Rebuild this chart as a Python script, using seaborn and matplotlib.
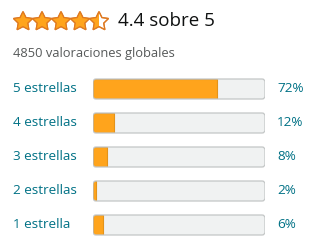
import numpy as np
import pandas as pd
import matplotlib
matplotlib.use("Agg")
import matplotlib.pyplot as plt
import seaborn as sns
from matplotlib.patches import FancyBboxPatch, Polygon
from matplotlib.transforms import blended_transform_factory

# ---- data ----
rating = 4.4
rating_max = 5
total_ratings = 4850
star_labels = ["5 estrellas", "4 estrellas", "3 estrellas", "2 estrellas", "1 estrella"]
percents = [72, 12, 8, 2, 6]

title_text = f"{rating} sobre {rating_max}"
subtitle_text = f"{total_ratings} valoraciones globales"

ORANGE = "#FFA41C"
ORANGE_EDGE = "#E3931B"
STAR_EDGE = "#DE7921"
TRACK = "#F0F2F2"
TRACK_EDGE = "#C3C6C6"
TEAL = "#007185"
DARK = "#0F1111"
GREY = "#565959"

sns.set_theme(style="white")
plt.rcParams["font.family"] = ["Open Sans", "DejaVu Sans"]

W, H = 320, 252
fig = plt.figure(figsize=(W / 100, H / 100), dpi=100)
fig.patch.set_facecolor("white")

# ---- header axes in pixel coordinates ----
hdr = fig.add_axes([0, 0, 1, 1])
hdr.set_xlim(0, W)
hdr.set_ylim(H, 0)
hdr.axis("off")


def star_poly(cx, cy, r_out, r_in):
    pts = []
    for k in range(10):
        ang = np.pi / 2 + k * np.pi / 5
        r = r_out if k % 2 == 0 else r_in
        pts.append((cx + r * np.cos(ang), cy - r * np.sin(ang)))
    return np.array(pts)


filled = round(rating * 2) / 2
for i in range(rating_max):
    cx = 23 + i * 19
    cy = 21.6
    pts = star_poly(cx, cy, 10.0, 5.0)
    frac = min(max(filled - i, 0), 1)
    base = Polygon(pts, closed=True, facecolor="white", edgecolor=STAR_EDGE, lw=0.9, zorder=2)
    hdr.add_patch(base)
    if frac > 0:
        fill = Polygon(pts, closed=True, facecolor=ORANGE, edgecolor="none", zorder=3)
        hdr.add_patch(fill)
        if frac < 1:
            clip = plt.Rectangle((cx - 11, cy - 11), 22 * frac, 22, transform=hdr.transData)
            fill.set_clip_path(clip)
        edge = Polygon(pts, closed=True, facecolor="none", edgecolor=STAR_EDGE, lw=0.9, zorder=4)
        hdr.add_patch(edge)

hdr.text(118, 21.5, title_text, fontsize=13.5, color=DARK, va="center", ha="left")
hdr.text(13, 53.5, subtitle_text, fontsize=9.3, color=GREY, va="center", ha="left")

# ---- bars axes ----
left, right = 93 / W, 265 / W
top_px, bot_px = 72, 242
ax = fig.add_axes([left, 1 - bot_px / H, right - left, (bot_px - top_px) / H])

df = pd.DataFrame({"label": star_labels, "pct": percents, "full": [100] * len(percents)})
bw = 20 / 34
sns.barplot(data=df, y="label", x="full", color=TRACK, width=bw, ax=ax, orient="h", saturation=1)
n_track = len(ax.patches)
sns.barplot(data=df, y="label", x="pct", color=ORANGE, width=bw, ax=ax, orient="h", saturation=1)

ax.set_xlim(0, 100)
ax.set_ylim(len(star_labels) - 0.5, -0.5)
ax.axis("off")

# rounded track backgrounds, orange fills clipped inside them
px_per_x = (265 - 93) / 100.0
px_per_y = 34.0
rad_px = 3.0
patches = list(ax.patches)
tracks = patches[:n_track]
fills = patches[n_track:]
for tr, fl in zip(tracks, fills):
    x0, y0 = tr.get_x(), tr.get_y()
    w, h = tr.get_width(), tr.get_height()
    tr.remove()
    rp = FancyBboxPatch((x0, y0), w, h,
                        boxstyle=f"round,pad=0,rounding_size={rad_px / px_per_x}",
                        mutation_aspect=(1 / px_per_y) / (1 / px_per_x),
                        facecolor=TRACK, edgecolor="none", zorder=1)
    ax.add_patch(rp)
    fl.set_zorder(2)
    fl.set_edgecolor(ORANGE_EDGE)
    fl.set_linewidth(0.8)
    fl.set_clip_path(rp)
    border = FancyBboxPatch((x0, y0), w, h,
                            boxstyle=f"round,pad=0,rounding_size={rad_px / px_per_x}",
                            mutation_aspect=(1 / px_per_y) / (1 / px_per_x),
                            facecolor="none", edgecolor=TRACK_EDGE, lw=0.9, zorder=3)
    ax.add_patch(border)

trans = blended_transform_factory(fig.transFigure, ax.transData)
for i, (lab, p) in enumerate(zip(star_labels, percents)):
    ax.text(13 / W, i, lab, transform=trans, fontsize=9.7, color=TEAL, va="center", ha="left")
    ax.text(277 / W, i, f"{p}%", transform=trans, fontsize=9.7, color=TEAL, va="center", ha="left")

fig.savefig("out.png", dpi=100, facecolor="white")
